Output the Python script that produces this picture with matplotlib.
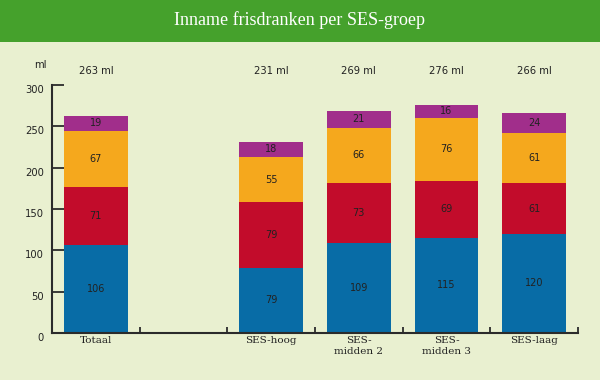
import matplotlib
matplotlib.use('Agg')
import matplotlib.pyplot as plt
from matplotlib.patches import Rectangle

categories = ['Totaal', '', 'SES-hoog', 'SES-\nmidden 2', 'SES-\nmidden 3', 'SES-laag']
blue_vals = [106, None, 79, 109, 115, 120]
red_vals = [71, None, 79, 73, 69, 61]
orange_vals = [67, None, 55, 66, 76, 61]
purple_vals = [19, None, 18, 21, 16, 24]
totals = ['263 ml', '', '231 ml', '269 ml', '276 ml', '266 ml']
yticks = [0, 50, 100, 150, 200, 250, 300]

BG = '#E9F0D0'
HEADER = '#45A12C'
colors = ['#086CA6', '#C20C2B', '#F5A81D', '#A12E8B']
AXIS = '#2B2B2B'

fig = plt.figure(figsize=(6, 3.8), dpi=100, facecolor=BG)
fig.patches.append(Rectangle((0, 1 - 42 / 380), 1, 42 / 380, transform=fig.transFigure,
                             facecolor=HEADER, edgecolor='none', zorder=0))
fig.text(0.5, 1 - 20 / 380, 'Inname frisdranken per SES-groep', ha='center', va='center',
         color='white', fontsize=13, family='Liberation Serif')

ax = fig.add_axes([52 / 600, 1 - 333 / 380, 526 / 600, 248 / 380])
ax.set_facecolor(BG)
ax.set_xlim(-0.5, 5.5)
ax.set_ylim(0, 300)

series = [blue_vals, red_vals, orange_vals, purple_vals]
for i in range(len(categories)):
    if blue_vals[i] is None:
        continue
    bottom = 0
    for vals, col in zip(series, colors):
        v = vals[i]
        ax.bar(i, v, bottom=bottom, width=0.73, color=col, edgecolor='none')
        ax.text(i, bottom + v / 2, str(v), ha='center', va='center', fontsize=7,
                color='#222222', family='DejaVu Sans')
        bottom += v
    ax.text(i, 317, totals[i], ha='center', va='center', fontsize=7.2, color='#222222',
            clip_on=False)
    ax.text(i, -4, categories[i], ha='center', va='top', fontsize=7.5, color='#222222',
            family='DejaVu Serif', linespacing=1.25, clip_on=False)

for side in ['top', 'right']:
    ax.spines[side].set_visible(False)
for side in ['left', 'bottom']:
    ax.spines[side].set_color(AXIS)
    ax.spines[side].set_linewidth(1.5)

ax.set_yticks(yticks)
ax.set_yticklabels([])
ax.tick_params(axis='y', direction='in', length=8.6, width=1.3, color=AXIS)
ax.set_xticks([0.5, 1.5, 2.5, 3.5, 4.5, 5.5])
ax.set_xticklabels([])
ax.tick_params(axis='x', direction='in', length=4, width=1.3, color=AXIS)

for v in yticks:
    ax.text(-0.015, v - 6, str(v), transform=ax.get_yaxis_transform(), ha='right',
            va='center', fontsize=7.2, color='#222222', clip_on=False)
ax.text(-0.023, 324, 'ml', transform=ax.get_yaxis_transform(), ha='center', va='center',
        fontsize=7.2, color='#222222', clip_on=False)

fig.savefig('out.png', dpi=100, facecolor=BG)
